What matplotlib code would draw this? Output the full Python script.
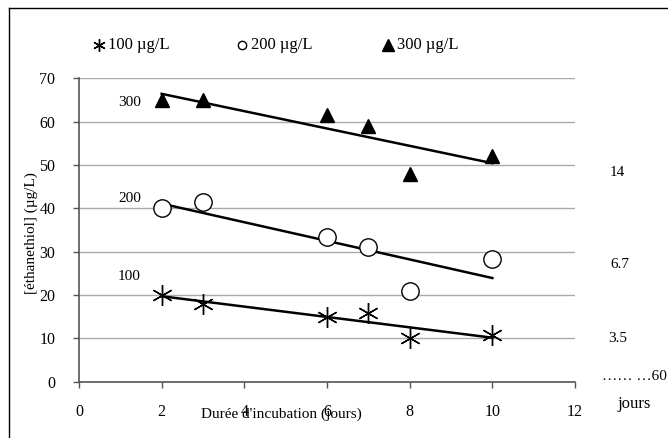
import matplotlib
matplotlib.use('Agg')
import matplotlib.pyplot as plt
from matplotlib.lines import Line2D
import numpy as np

days = [2, 3, 6, 7, 8, 10]
c100 = [20, 18, 15, 15.8, 10, 10.8]
c200 = [40, 41.5, 33.3, 31, 21, 28.2]
c300 = [65, 65, 61.5, 59, 48, 52]
series_labels = ['100 µg/L', '200 µg/L', '300 µg/L']
series_tags = ['100', '200', '300']
side_labels = ['14', '6.7', '3.5']

plt.rcParams['font.family'] = 'Liberation Serif'

W, H = 668, 438
fig = plt.figure(figsize=(W / 100, H / 100), dpi=100)
fig.patch.set_facecolor('white')
ax = fig.add_axes([79 / W, 1 - 381.7 / H, (575 - 79) / W, (381.7 - 78.3) / H])

markers = [
    dict(marker=(6, 2, 0), markersize=15, markeredgewidth=1.0, color='black'),
    dict(marker='o', markersize=12.5, markeredgewidth=1.0, markerfacecolor='white', markeredgecolor='black'),
    dict(marker='^', markersize=10, color='black'),
]
legend_sizes = [9, 6, 8]

for vals, mk in zip([c100, c200, c300], markers):
    ax.plot(days, vals, linestyle='none', zorder=4, **mk)
    # linear trend line over the measured range
    slope, inter = np.polyfit(days, vals, 1)
    xs = np.array([days[0], days[-1]])
    ax.plot(xs, slope * xs + inter, color='black', lw=1.8, zorder=3)

ax.set_xlim(0, 12)
ax.set_ylim(0, 70)
ax.set_xticks(range(0, 13, 2))
ax.set_yticks(range(0, 71, 10))
ax.tick_params(axis='both', labelsize=11.5, length=4, width=1, color='#555555', direction='out')
ax.tick_params(axis='x', pad=12)
ax.tick_params(axis='y', pad=13)
ax.yaxis.grid(True, color='#aaaaaa', lw=1)
ax.set_axisbelow(True)
for s in ['top', 'right']:
    ax.spines[s].set_visible(False)
for s in ['left', 'bottom']:
    ax.spines[s].set_color('#555555')
    ax.spines[s].set_linewidth(1.2)

# series tags left of each trend line
ax.text(1.5, 64.5, series_tags[2], ha='right', va='center', fontsize=11)
ax.text(1.5, 42.2, series_tags[1], ha='right', va='center', fontsize=11)
ax.text(1.5, 24.3, series_tags[0], ha='right', va='center', fontsize=11)

# axis labels
fig.text(281 / W, 1 - 414 / H, "Durée d'incubation (jours)", ha='center', va='center', fontsize=11)
fig.text(31 / W, 1 - 233 / H, '[éthanethiol] (µg/L)', ha='center', va='center', rotation=90, fontsize=11)

# legend row at the top
leg_x = [99, 242, 388]
for lx, lab, mk, ms in zip(leg_x, series_labels, markers, legend_sizes):
    fig.add_artist(Line2D([lx / W], [1 - 45 / H], linestyle='none', transform=fig.transFigure,
                          **{**mk, 'markersize': ms}))
    fig.text((lx + 9) / W, 1 - 45 / H, lab, ha='left', va='center', fontsize=12)

# right-hand annotations
fig.text(617 / W, 1 - 172 / H, side_labels[0], ha='center', va='center', fontsize=11)
fig.text(620 / W, 1 - 264 / H, side_labels[1], ha='center', va='center', fontsize=11)
fig.text(618 / W, 1 - 338 / H, side_labels[2], ha='center', va='center', fontsize=11)
fig.text(602 / W, 1 - 377 / H, '…… …60', ha='left', va='center', fontsize=11)
fig.text(634 / W, 1 - 404 / H, 'jours', ha='center', va='center', fontsize=12)

# frame around the figure (right and bottom edges cut off)
fig.add_artist(Line2D([9 / W, 9 / W], [0, 1 - 8 / H], color='black', lw=1, transform=fig.transFigure))
fig.add_artist(Line2D([9 / W, 1], [1 - 8 / H, 1 - 8 / H], color='black', lw=1, transform=fig.transFigure))

fig.savefig('out.png', dpi=100, facecolor='white')
plt.close(fig)
